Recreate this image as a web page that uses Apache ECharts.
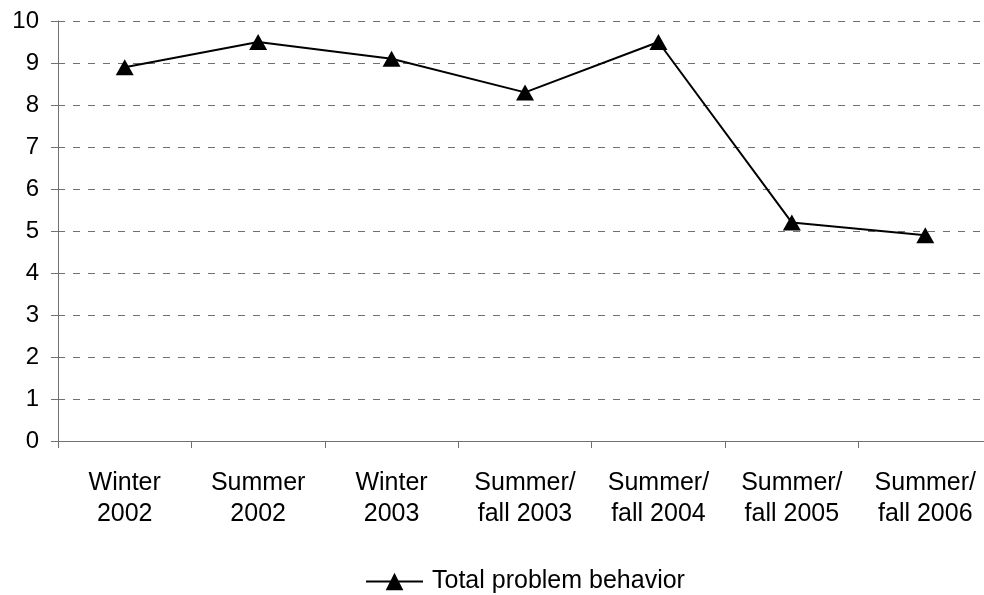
<!DOCTYPE html>
<html>
<head>
<meta charset="utf-8">
<script src="https://cdn.jsdelivr.net/npm/echarts@6/dist/echarts.min.js"></script>
<style>
  html, body { margin: 0; padding: 0; background: #fff; overflow: hidden; }
  #frame { width: 984px; height: 595px; overflow: hidden; position: relative; }
  /* the plot runs a little past the right edge of the frame */
  #chart { width: 1000px; height: 595px; }
</style>
</head>
<body>
<div id="frame"><div id="chart"></div></div>
<script>
// Survey waves along the x axis
const periods = ['Winter\n2002', 'Summer\n2002', 'Winter\n2003', 'Summer/\nfall 2003', 'Summer/\nfall 2004', 'Summer/\nfall 2005', 'Summer/\nfall 2006'];
// Total problem behavior score per wave
const totalProblem = [8.9, 9.5, 9.1, 8.3, 9.5, 5.2, 4.9];
const seriesName = 'Total problem behavior';

const chart = echarts.init(document.getElementById('chart'));
const font = 'Liberation Sans, Arial, sans-serif';

chart.setOption({
  animation: false,
  backgroundColor: '#ffffff',
  grid: { left: 58, top: 21, width: 934, height: 420, containLabel: false },
  legend: {
    top: 569,
    left: 365,
    padding: 0,
    data: [seriesName],
    itemWidth: 57,
    itemHeight: 22,
    itemGap: 6,
    textStyle: { fontFamily: font, fontSize: 25, color: '#000', padding: [0, 0, 0, 4] }
  },
  xAxis: {
    type: 'category',
    data: periods,
    boundaryGap: true,
    axisLine: { lineStyle: { color: '#707070', width: 1 } },
    axisTick: { show: true, length: 7, alignWithLabel: false, lineStyle: { color: '#707070' } },
    axisLabel: { fontFamily: font, fontSize: 25, color: '#000', lineHeight: 31, margin: 27, interval: 0 },
    splitLine: { show: false }
  },
  yAxis: {
    type: 'value',
    min: 0,
    max: 10,
    interval: 1,
    axisLine: { show: true, lineStyle: { color: '#707070', width: 1 } },
    axisTick: { show: true, length: 7, lineStyle: { color: '#707070' } },
    axisLabel: { fontFamily: font, fontSize: 24, color: '#000', margin: 19 },
    splitLine: { show: true, lineStyle: { color: '#707070', width: 1, type: [7, 8] } }
  },
  series: [{
    name: seriesName,
    type: 'line',
    data: totalProblem,
    symbol: 'triangle',
    symbolSize: [18, 16],
    itemStyle: { color: '#000' },
    lineStyle: { color: '#000', width: 2 }
  }]
});
</script>
</body>
</html>
